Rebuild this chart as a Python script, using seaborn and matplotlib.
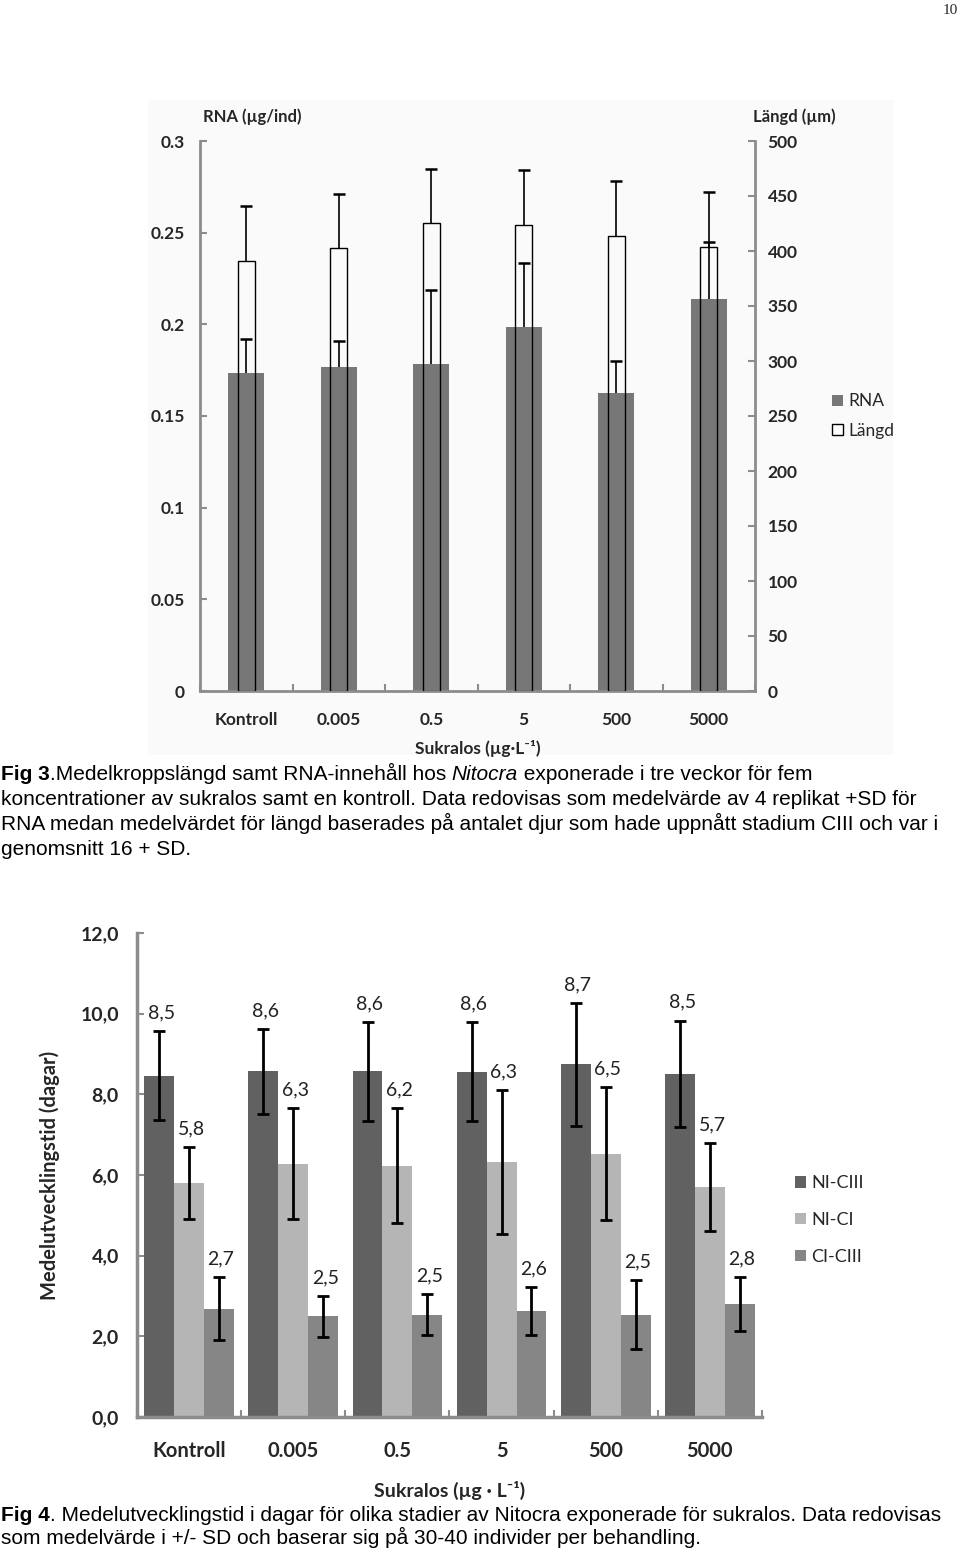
import matplotlib
matplotlib.use("Agg")
import matplotlib.pyplot as plt
from matplotlib.patches import Patch, Rectangle
import seaborn as sns
import numpy as np
import pandas as pd

# ---------------- data ----------------
categories = ["Kontroll", "0.005", "0.5", "5", "500", "5000"]

rna_mean = [0.1737, 0.1765, 0.1786, 0.1988, 0.1628, 0.2140]
rna_sd = [0.0182, 0.0142, 0.0400, 0.0347, 0.0174, 0.0309]
langd_mean = [391, 403, 425, 424, 414, 404]
langd_sd = [50, 49, 50, 50, 50, 50]

rna_ticks = [0, 0.05, 0.1, 0.15, 0.2, 0.25, 0.3]
rna_ticklabels = ["0", "0.05", "0.1", "0.15", "0.2", "0.25", "0.3"]
langd_ticks = [0, 50, 100, 150, 200, 250, 300, 350, 400, 450, 500]

stages = ["NI-CIII", "NI-CI", "CI-CIII"]
ni_ciii_mean = [8.46, 8.57, 8.57, 8.56, 8.74, 8.51]
ni_ciii_sd = [1.10, 1.05, 1.22, 1.23, 1.53, 1.32]
ni_ci_mean = [5.80, 6.28, 6.23, 6.32, 6.53, 5.70]
ni_ci_sd = [0.89, 1.38, 1.42, 1.79, 1.64, 1.10]
ci_ciii_mean = [2.68, 2.50, 2.54, 2.63, 2.54, 2.80]
ci_ciii_sd = [0.78, 0.51, 0.51, 0.60, 0.86, 0.68]
dev_ticks = [0, 2, 4, 6, 8, 10, 12]

# ---------------- style ----------------
sns.set_theme(style="white")
plt.rcParams["font.family"] = ["Lato", "DejaVu Sans"]

W, H = 960, 1550
fig = plt.figure(figsize=(W / 100, H / 100), dpi=100)
fig.patch.set_facecolor("white")

AX_GRAY = "#8c8c8c"
CAP_FAMILY = ["Liberation Sans", "DejaVu Sans"]

def fx(px):
    return px / W

def fy(py):
    return 1 - py / H

# faint background of the pasted chart image (Fig 3)
fig.patches.append(Rectangle((fx(148), fy(755)), fx(893) - fx(148), fy(100) - fy(755),
                             transform=fig.transFigure, facecolor="#fafafa",
                             edgecolor="none", zorder=-5))

def plus_sd(axis, xs, means, sds):
    """Upward-only error bars (+SD) with a cap at the top only."""
    tops = np.asarray(means) + np.asarray(sds)
    axis.vlines(xs, means, tops, colors="black", linewidth=1.2, zorder=3)
    axis.plot(xs, tops, linestyle="none", marker="_", markersize=8,
              markeredgewidth=1.8, color="black", zorder=3)

# ================= Fig 3 =================
ax = fig.add_axes([fx(200), fy(691), fx(755) - fx(200), fy(141) - fy(691)])
ax.set_facecolor("none")
df3 = pd.DataFrame({"cat": categories, "rna": rna_mean, "langd": langd_mean})
sns.barplot(data=df3, x="cat", y="rna", ax=ax, color="#777777", width=0.39,
            saturation=1, edgecolor="none", linewidth=0, zorder=2)
xs3 = np.arange(len(categories))
plus_sd(ax, xs3, rna_mean, rna_sd)
ax.set_ylim(0, 0.3)
ax.set_xlim(-0.5, len(categories) - 0.5)

ax2 = ax.twinx()
sns.barplot(data=df3, x="cat", y="langd", ax=ax2, color="white", width=0.18,
            saturation=1, zorder=2)
for p in ax2.patches:
    p.set_facecolor("none")
    p.set_edgecolor("black")
    p.set_linewidth(1.0)
plus_sd(ax2, xs3, langd_mean, langd_sd)
ax2.set_ylim(0, 500)
ax2.set_xlim(-0.5, len(categories) - 0.5)

for a in (ax, ax2):
    for s in a.spines.values():
        s.set_visible(False)
ax.spines["left"].set_visible(True)
ax.spines["bottom"].set_visible(True)
ax2.spines["right"].set_visible(True)
for s in (ax.spines["left"], ax.spines["bottom"], ax2.spines["right"]):
    s.set_color(AX_GRAY)
    s.set_linewidth(2)

ax.set_yticks(rna_ticks)
ax.set_yticklabels(rna_ticklabels)
ax2.set_yticks(langd_ticks)
ax.tick_params(axis="y", direction="in", length=5, width=1.5, color=AX_GRAY,
               labelsize=12.5, pad=11, left=True)
ax2.tick_params(axis="y", direction="in", length=5, width=1.5, color=AX_GRAY,
                labelsize=12.5, pad=9, right=True)
for lab in ax.get_yticklabels() + ax2.get_yticklabels():
    lab.set_fontweight("bold")

ax.set_xticks(xs3)
ax.set_xticklabels(categories, fontsize=12.5, fontweight="bold")
ax.set_xticks(np.arange(len(categories) + 1) - 0.5, minor=True)
ax.tick_params(axis="x", which="major", length=0, pad=15)
ax.tick_params(axis="x", which="minor", direction="in", length=5, width=1.5,
               color=AX_GRAY, bottom=True)
ax.set_xlabel("Sukralos (µg·L⁻¹)", fontsize=12.5, fontweight="bold")
ax.xaxis.set_label_coords(0.5, -(740 - 691) / (691 - 141))
ax.set_ylabel("")
ax2.set_ylabel("")
ax2.set_xlabel("")

fig.text(fx(203), fy(117), "RNA (µg/ind)", fontsize=12, fontweight="bold",
         ha="left", va="center")
fig.text(fx(753), fy(117), "Längd (µm)", fontsize=12, fontweight="bold",
         ha="left", va="center")

h3 = [Patch(facecolor="#777777", edgecolor="none"),
      Patch(facecolor="white", edgecolor="black", linewidth=1)]
fig.legend(h3, ["RNA", "Längd"], loc="center left", bbox_to_anchor=(fx(823), fy(416)),
           frameon=False, fontsize=12.5, handlelength=0.65, handleheight=0.65,
           handletextpad=0.3, labelspacing=0.75, borderpad=0)

# ================= Fig 4 =================
bx = fig.add_axes([fx(137), fy(1417), fx(762) - fx(137), fy(933) - fy(1417)])
df4 = pd.DataFrame({
    "cat": categories * 3,
    "stage": [stages[0]] * 6 + [stages[1]] * 6 + [stages[2]] * 6,
    "val": ni_ciii_mean + ni_ci_mean + ci_ciii_mean,
})
sds = ni_ciii_sd + ni_ci_sd + ci_ciii_sd
pal = {"NI-CIII": "#616161", "NI-CI": "#b5b5b5", "CI-CIII": "#868686"}
sns.barplot(data=df4, x="cat", y="val", hue="stage", hue_order=stages, palette=pal,
            ax=bx, width=0.86, saturation=1, edgecolor="none", linewidth=0,
            legend=False)
bars = [p for p in bx.patches if isinstance(p, Rectangle)][:18]
for p, v, sd in zip(bars, df4["val"], sds):
    xc = p.get_x() + p.get_width() / 2
    bx.errorbar(xc, v, yerr=sd, fmt="none", ecolor="black", elinewidth=2,
                capsize=4, capthick=2, zorder=4)
    bx.text(xc + 0.02, v + sd + 0.45, f"{v:.1f}".replace(".", ","), ha="center",
            va="center", fontsize=14, color="#222222")
bx.set_ylim(0, 12)
bx.set_xlim(-0.5, len(categories) - 0.5)
for s in bx.spines.values():
    s.set_visible(False)
for k in ("left", "bottom"):
    bx.spines[k].set_visible(True)
    bx.spines[k].set_color(AX_GRAY)
    bx.spines[k].set_linewidth(2.5)
bx.set_yticks(dev_ticks)
bx.set_yticklabels([f"{t:.1f}".replace(".", ",") for t in dev_ticks])
bx.tick_params(axis="y", direction="in", length=5, width=1.5, color=AX_GRAY,
               labelsize=14, pad=13, left=True)
for lab in bx.get_yticklabels():
    lab.set_fontweight("bold")
bx.set_xticks(np.arange(len(categories)))
bx.set_xticklabels(categories, fontsize=14.5, fontweight="bold")
bx.set_xticks(np.arange(len(categories) + 1) - 0.5, minor=True)
bx.tick_params(axis="x", which="major", length=0, pad=17)
bx.tick_params(axis="x", which="minor", direction="in", length=5, width=1.5,
               color=AX_GRAY, bottom=True)
bx.set_xlabel("Sukralos (µg · L⁻¹)", fontsize=14, fontweight="bold")
bx.xaxis.set_label_coords(0.5, -(1481 - 1417) / (1417 - 933))
bx.set_ylabel("Medelutvecklingstid (dagar)", fontsize=14.5, fontweight="bold")
bx.yaxis.set_label_coords(-(137 - 60) / (762 - 137), 0.5)

h4 = [Patch(facecolor=pal[s], edgecolor="none") for s in stages]
fig.legend(h4, stages, loc="center left", bbox_to_anchor=(fx(786), fy(1220)),
           frameon=False, fontsize=13, handlelength=0.6, handleheight=0.6,
           handletextpad=0.3, labelspacing=1.15, borderpad=0)

# ================= captions =================
renderer = fig.canvas.get_renderer()

def rich_line(x_px, base_px, parts, size):
    cur = x_px
    for text, weight, style in parts:
        t = fig.text(fx(cur), fy(base_px), text, fontsize=size, fontweight=weight,
                     fontstyle=style, family=CAP_FAMILY, ha="left", va="baseline",
                     color="black")
        cur += t.get_window_extent(renderer).width

CS = 15
rich_line(1, 780, [("Fig 3", "bold", "normal"),
                   (".Medelkroppslängd samt RNA-innehåll hos ", "normal", "normal"),
                   ("Nitocra", "normal", "italic"),
                   (" exponerade i tre veckor för fem", "normal", "normal")], CS)
rich_line(1, 805, [("koncentrationer av sukralos samt en kontroll. Data redovisas som medelvärde av 4 replikat +SD för",
                    "normal", "normal")], CS)
rich_line(1, 830, [("RNA medan medelvärdet för längd baserades på antalet djur som hade uppnått stadium CIII och var i",
                    "normal", "normal")], CS)
rich_line(1, 855, [("genomsnitt 16 + SD.", "normal", "normal")], CS)

rich_line(1, 1521, [("Fig 4", "bold", "normal"),
                    (". Medelutvecklingstid i dagar för olika stadier av Nitocra exponerade för sukralos. Data redovisas",
                     "normal", "normal")], CS)
rich_line(1, 1544, [("som medelvärde i +/- SD och baserar sig på 30-40 individer per behandling.",
                     "normal", "normal")], CS)

fig.text(fx(958), fy(10), "10", fontsize=11, family=["Liberation Serif", "DejaVu Serif"],
         ha="right", va="center")

fig.savefig("out.png", dpi=100)
